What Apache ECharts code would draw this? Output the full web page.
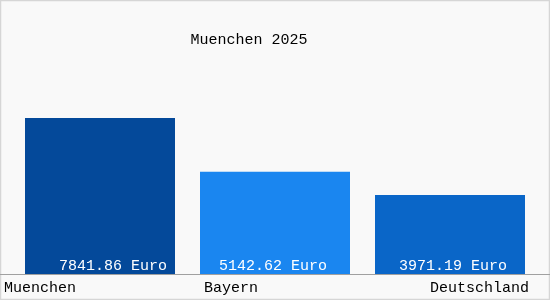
<!DOCTYPE html>
<html>
<head>
<meta charset="utf-8">
<script src="https://cdn.jsdelivr.net/npm/echarts@6/dist/echarts.min.js"></script>
<style>
html,body{margin:0;padding:0;background:#f9f9f9;}
#c{width:550px;height:300px;}
</style>
</head>
<body>
<div id="c"></div>
<script>
var titleText = 'Muenchen 2025';
var categories = ['Muenchen', 'Bayern', 'Deutschland'];
var values = [7841.86, 5142.62, 3971.19];
var unit = 'Euro';
var barColors = ['#04499a', '#1a86f0', '#0a66c8'];
var labelShift = [13, -2, 3];

var FONT = '"Liberation Mono", "DejaVu Sans Mono", monospace';
var chart = echarts.init(document.getElementById('c'));

var data = values.map(function (v, i) {
  return {
    value: v,
    itemStyle: { color: barColors[i] },
    label: { offset: [labelShift[i], 0] }
  };
});

var richKeys = ['m', 'b', 'd'];

chart.setOption({
  backgroundColor: '#f9f9f9',
  animation: false,
  title: {
    text: titleText,
    left: 244,
    textAlign: 'center',
    top: 28,
    textStyle: { fontFamily: FONT, fontSize: 15, fontWeight: 'normal', color: '#000' }
  },
  grid: [
    { left: 12.5, right: 12.5, top: 40, bottom: 26 },
    { left: 0, right: 0, top: 40, bottom: 26 }
  ],
  xAxis: [
    {
      type: 'category',
      gridIndex: 0,
      data: categories,
      axisLine: { show: false },
      axisTick: { show: false },
      axisLabel: {
        margin: 7,
        interval: 0,
        formatter: function (val, idx) { return '{' + richKeys[idx] + '|' + val + '}'; },
        rich: {
          m: { fontFamily: FONT, fontSize: 15, color: '#000', width: 192, align: 'left' },
          b: { fontFamily: FONT, fontSize: 15, color: '#000', width: 142, align: 'left' },
          d: { fontFamily: FONT, fontSize: 15, color: '#000', width: 158, align: 'right' }
        }
      }
    },
    {
      type: 'value',
      gridIndex: 1,
      min: 0, max: 1,
      axisLine: { show: true, lineStyle: { color: '#a0a0a0', width: 1 } },
      axisTick: { show: false },
      axisLabel: { show: false },
      splitLine: { show: false }
    }
  ],
  yAxis: [
    { type: 'value', gridIndex: 0, min: 0, max: 11760, show: false },
    { type: 'value', gridIndex: 1, min: 0, max: 1, show: false }
  ],
  series: [{
    type: 'bar',
    xAxisIndex: 0,
    yAxisIndex: 0,
    data: data,
    barWidth: 150,
    label: {
      show: true,
      position: 'insideBottom',
      distance: 0,
      color: '#fff',
      fontFamily: FONT,
      fontSize: 15,
      formatter: function (p) { return p.value.toFixed(2) + ' ' + unit; }
    }
  }],
  graphic: [{
    type: 'rect',
    shape: { x: 0.5, y: 0.5, width: 549, height: 299 },
    style: { fill: 'none', stroke: '#d6d6d6', lineWidth: 1.5 },
    silent: true
  }]
});
</script>
</body>
</html>
